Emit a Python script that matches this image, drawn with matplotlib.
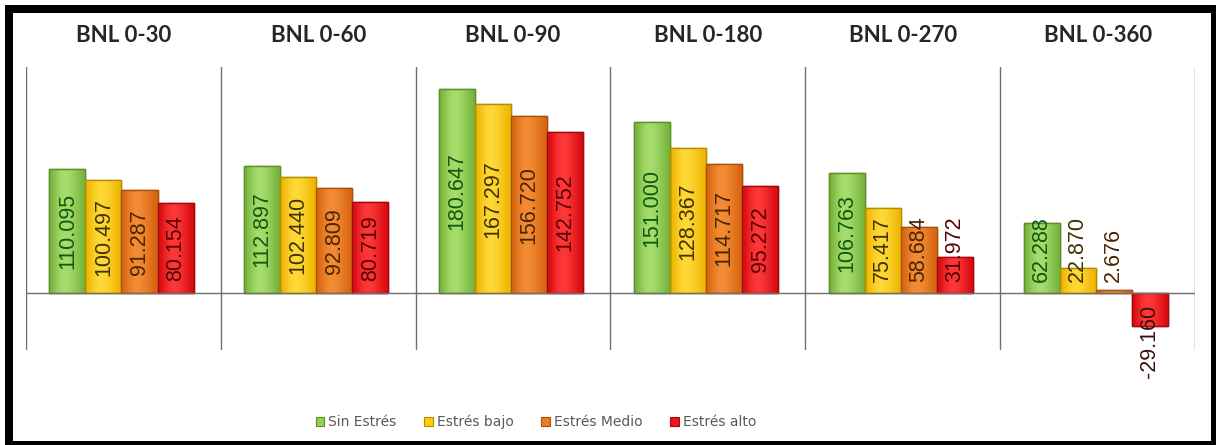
import matplotlib
matplotlib.use("Agg")
import matplotlib.pyplot as plt
from matplotlib.patches import Rectangle, Patch
from matplotlib.colors import LinearSegmentedColormap
import numpy as np

categories = ["BNL 0-30", "BNL 0-60", "BNL 0-90", "BNL 0-180", "BNL 0-270", "BNL 0-360"]
series_names = ["Sin Estrés", "Estrés bajo", "Estrés Medio", "Estrés alto"]
sin_estres = [110.095, 112.897, 180.647, 151.000, 106.763, 62.288]
estres_bajo = [100.497, 102.440, 167.297, 128.367, 75.417, 22.870]
estres_medio = [91.287, 92.809, 156.720, 114.717, 58.684, 2.676]
estres_alto = [80.154, 80.719, 142.752, 95.272, 31.972, -29.160]
labels_sin = ["110.095", "112.897", "180.647", "151.000", "106.763", "62.288"]
labels_bajo = ["100.497", "102.440", "167.297", "128.367", "75.417", "22.870"]
labels_medio = ["91.287", "92.809", "156.720", "114.717", "58.684", "2.676"]
labels_alto = ["80.154", "80.719", "142.752", "95.272", "31.972", "-29.160"]

series = [sin_estres, estres_bajo, estres_medio, estres_alto]
series_labels = [labels_sin, labels_bajo, labels_medio, labels_alto]
colors = ["#92D050", "#FFCC0A", "#EE7B1C", "#F2141C"]
light = ["#A9DE6E", "#FFDA3A", "#F48E36", "#FF3A3A"]
dark = ["#76B43C", "#F0B400", "#D86410", "#D80A10"]
edges = ["#5E8F2C", "#B38F00", "#A85210", "#A00A0E"]
text_colors = ["#0E5A0E", "#3F3300", "#4A2500", "#5A0000"]

W, H = 1216, 445
fig = plt.figure(figsize=(W / 100, H / 100), dpi=100)
ax = fig.add_axes([26 / W, 1 - 350 / H, (1195 - 26) / W, (350 - 67) / H])
ax.set_xlim(-0.5, len(categories) - 0.5)
ax.set_ylim(-50, 200)
for s in ax.spines.values():
    s.set_visible(False)
ax.set_xticks([])
ax.set_yticks([])

x = np.arange(len(categories))
bw = 0.185
center_shift = -0.01
grad = np.array([[0.0, 0.5, 0.85, 1.0, 0.85, 0.6, 0.3, 0.0]])
for j, (vals, labs) in enumerate(zip(series, series_labels)):
    pos = x + center_shift + (j - 1.5) * bw
    bars = ax.bar(pos, vals, width=bw, color=colors[j], edgecolor=edges[j], linewidth=1.0, zorder=3)
    cmap = LinearSegmentedColormap.from_list("g%d" % j, [dark[j], light[j]])
    for b in bars:
        x0, y0 = b.get_x(), b.get_y()
        w, h = b.get_width(), b.get_height()
        im = ax.imshow(grad, cmap=cmap, vmin=0, vmax=1, aspect="auto",
                       extent=(x0, x0 + w, y0, y0 + h), interpolation="bicubic", zorder=3.1)
        im.set_clip_path(b)
        ax.add_patch(Rectangle((x0, y0), w, h, fill=False, edgecolor=edges[j], linewidth=1.0, zorder=3.2))
    for p, v, lab in zip(pos, vals, labs):
        if v >= 0:
            if v / 2 - 30 < 10:
                ax.text(p, 10, lab, rotation=90, ha="center", va="bottom",
                        fontsize=15.5, color=text_colors[j], family="Liberation Sans", zorder=5)
            else:
                ax.text(p, v / 2, lab, rotation=90, ha="center", va="center",
                        fontsize=15.5, color=text_colors[j], family="Liberation Sans", zorder=5)
        else:
            ax.text(p, -10, lab, rotation=90, ha="center", va="top",
                    fontsize=15.5, color="#3a1010", family="Liberation Sans", zorder=5)

ax.set_xlim(-0.5, len(categories) - 0.5)
ax.set_ylim(-50, 200)

# separators and zero line
for b in np.arange(-0.5, len(categories), 1.0):
    ax.axvline(b, color="#6f6f6f", linewidth=1.0, zorder=1)
ax.axhline(0, color="#6f6f6f", linewidth=1.0, zorder=4)

# panel titles
for i, c in enumerate(categories):
    ax.text(i, 1.113, c, transform=ax.get_xaxis_transform(), ha="center", va="center",
            fontsize=16, fontweight="bold", color="#262626", family="Lato")

# legend
handles = [Patch(facecolor=colors[j], edgecolor=edges[j], linewidth=0.8) for j in range(4)]
fig.legend(handles, series_names, loc="center", bbox_to_anchor=(536 / W, 1 - 422 / H),
           ncol=4, frameon=False, fontsize=10, handlelength=0.6, handleheight=0.6,
           handletextpad=0.3, columnspacing=2.0, labelcolor="#595959")

# outer border
fig.patches.append(Rectangle((9 / W, 0), (1215 - 9) / W, (H - 9) / H,
                             transform=fig.transFigure, fill=False, edgecolor="black",
                             linewidth=8 * 0.72, clip_on=False))

fig.savefig("out.png", dpi=100, facecolor="white")
